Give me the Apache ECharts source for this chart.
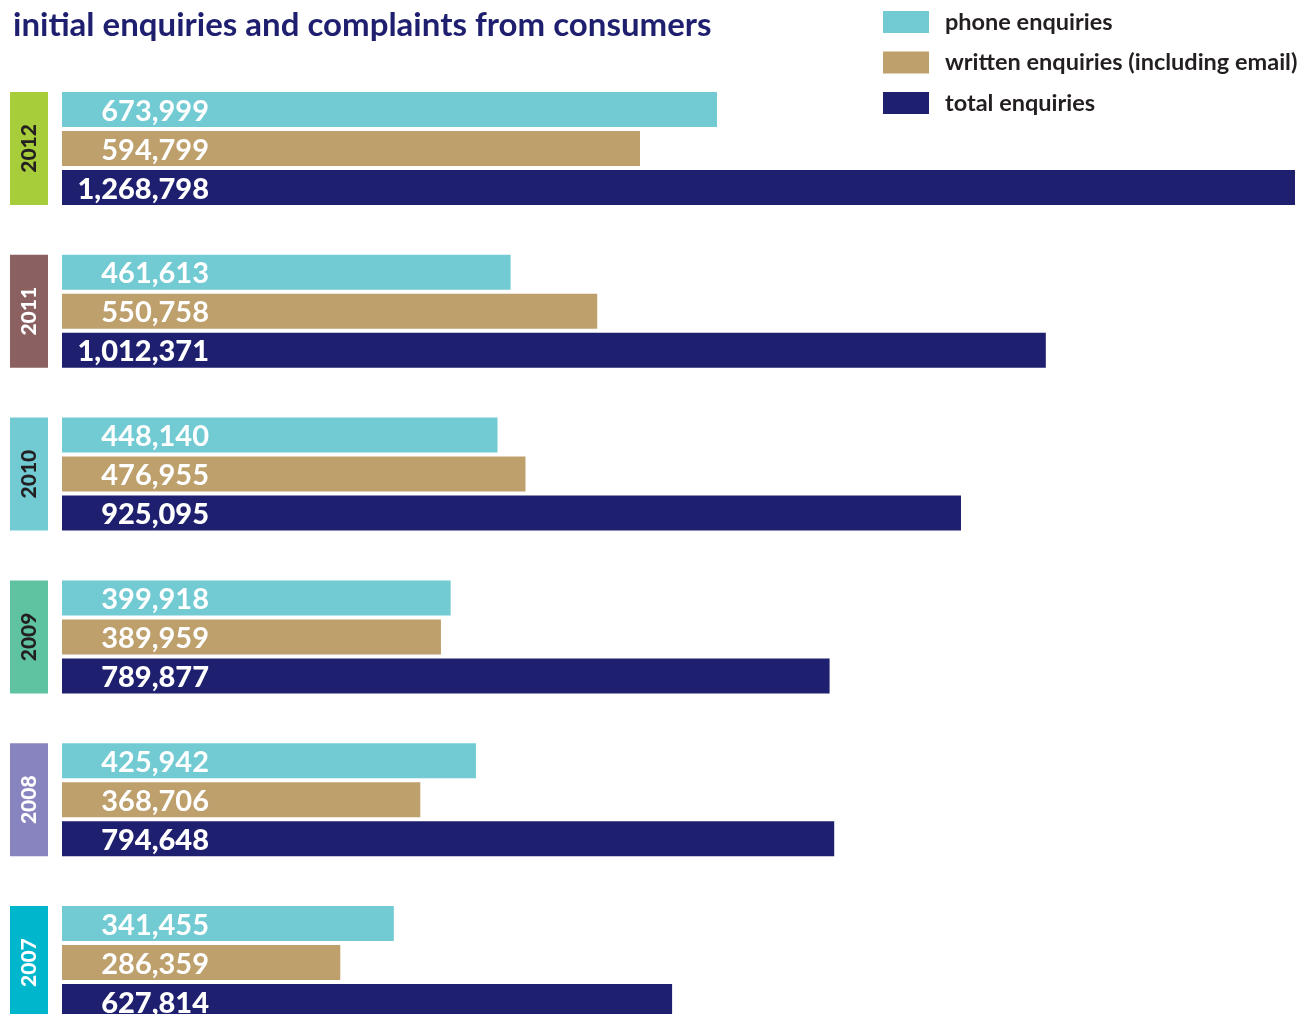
<!DOCTYPE html>
<html><head><meta charset="utf-8">
<script src="https://cdn.jsdelivr.net/npm/echarts@6/dist/echarts.min.js"></script>
<style>html,body{margin:0;padding:0;background:#fff}#c{width:1312px;height:1014px}</style>
</head><body><div id="c"></div>
<script>
const years = ['2012','2011','2010','2009','2008','2007'];
const phone = [673999, 461613, 448140, 399918, 425942, 341455];
const written = [594799, 550758, 476955, 389959, 368706, 286359];
const total = [1268798, 1012371, 925095, 789877, 794648, 627814];
const seriesNames = ['phone enquiries', 'written enquiries (including email)', 'total enquiries'];
const yearColors = ['#a8cd3a', '#8a6061', '#72cbd3', '#5fc3a1', '#8884bf', '#00b6cc'];
const yearTextColors = ['#231f20', '#ffffff', '#231f20', '#231f20', '#ffffff', '#ffffff'];
const seriesColors = ['#72cbd3', '#bda06c', '#1f1f6f'];

const FONT = 'Lato';
const fmt = v => v.toLocaleString('en-US');
const chart = echarts.init(document.getElementById('c'));
const bandTop = 67, bandH = 977;
function valSeries(name, data, color, weight) {
  return {
    name, type: 'bar', data, xAxisIndex: 0, yAxisIndex: 0,
    barWidth: 35, barGap: '11.43%',
    itemStyle: { color },
    label: {
      show: true, position: [147, '55%'], align: 'right', verticalAlign: 'middle',
      formatter: p => fmt(p.value), color: '#fff', fontFamily: FONT, fontWeight: weight, fontSize: 29
    },
    silent: true, animation: false
  };
}
chart.setOption({
  animation: false,
  title: {
    text: 'initial enquiries and complaints from consumers', left: 8, top: 4,
    textStyle: { color: '#1f1f6f', fontFamily: FONT, fontWeight: 'bold', fontSize: 33 }
  },
  legend: {
    orient: 'vertical', left: 883, top: 10, padding: 0, itemWidth: 46, itemHeight: 22, itemGap: 16.5,
    icon: 'rect', data: seriesNames,
    textStyle: { color: '#231f20', fontFamily: FONT, fontWeight: 'bold', fontSize: 23.5, padding: [9, 0, 0, 11] }
  },
  grid: [
    { left: 62, top: bandTop, width: 1233, height: bandH, outerBoundsMode: 'none' },
    { left: 10, top: bandTop, width: 38, height: bandH, outerBoundsMode: 'none' }
  ],
  xAxis: [
    { type: 'value', min: 0, max: 'dataMax', show: false, gridIndex: 0 },
    { type: 'value', min: 0, max: 1, show: false, gridIndex: 1 }
  ],
  yAxis: [
    { type: 'category', data: years, inverse: true, show: false, gridIndex: 0 },
    { type: 'category', data: years, inverse: true, show: false, gridIndex: 1 }
  ],
  series: [
    valSeries(seriesNames[0], phone, seriesColors[0], 'bold'),
    valSeries(seriesNames[1], written, seriesColors[1], 'bold'),
    valSeries(seriesNames[2], total, seriesColors[2], 900),
    {
      type: 'bar', xAxisIndex: 1, yAxisIndex: 1, barWidth: 113, silent: true,
      data: years.map((y, i) => ({
        value: 1, itemStyle: { color: yearColors[i] },
        label: { color: yearTextColors[i] }
      })),
      label: {
        show: true, position: 'inside', rotate: 90, formatter: p => years[p.dataIndex],
        fontFamily: FONT, fontWeight: 900, fontSize: 21
      }
    }
  ]
});
</script></body></html>
